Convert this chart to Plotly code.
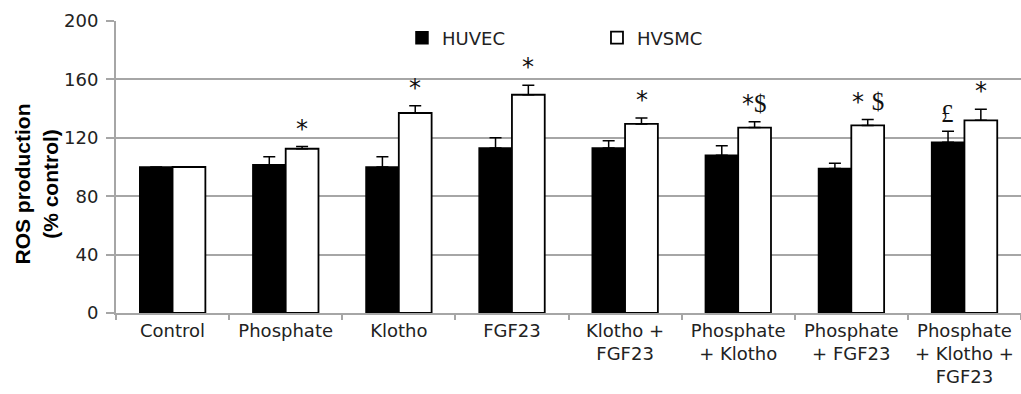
import plotly.graph_objects as go

categories = ["Control", "Phosphate", "Klotho", "FGF23", "Klotho +<br>FGF23",
              "Phosphate<br>+ Klotho", "Phosphate<br>+ FGF23", "Phosphate<br>+ Klotho +<br>FGF23"]
huvec = [100, 101.5, 100, 113, 113, 108, 99, 117]
huvec_err = [0, 5.5, 7, 7, 5, 6.5, 3.5, 7.5]
hvsmc = [100, 112.5, 137, 149.5, 129.5, 127, 128.5, 132]
hvsmc_err = [0, 1.5, 5, 6.5, 4, 4, 4, 7.5]
# significance marks: (category index, series, label)
marks = [(1, "HVSMC", "*"), (2, "HVSMC", "*"), (3, "HVSMC", "*"), (4, "HVSMC", "*"),
         (5, "HVSMC", "*$"), (6, "HVSMC", "* $"), (7, "HUVEC", "£"), (7, "HVSMC", "*")]
y_title = "ROS production<br>(% control)"

GRID = "#a6a6a6"
fig = go.Figure()
fig.add_bar(x=categories, y=huvec, name="HUVEC",
            marker=dict(color="black", line=dict(color="black", width=1.5)),
            error_y=dict(type="data", array=huvec_err, arrayminus=[0]*8, symmetric=False,
                         color="black", thickness=1.5, width=6))
fig.add_bar(x=categories, y=hvsmc, name="HVSMC",
            marker=dict(color="white", line=dict(color="black", width=1.8)),
            error_y=dict(type="data", array=hvsmc_err, arrayminus=[0]*8, symmetric=False,
                         color="black", thickness=1.5, width=6))

for idx, series, lab in marks:
    if series == "HVSMC":
        top = hvsmc[idx] + hvsmc_err[idx]
        shift = 16.5
    else:
        top = huvec[idx] + huvec_err[idx]
        shift = -16.5
    parts = []
    for ch in lab:
        if ch == "*":
            parts.append("<span style='font-family:DejaVu Sans;font-size:24px'>*</span>")
        elif ch == " ":
            parts.append(" ")
        else:
            parts.append(f"<span style='font-family:Liberation Serif;font-size:25px'>{ch}</span>")
    fig.add_annotation(x=categories[idx], y=top, text="".join(parts), showarrow=False,
                       xshift=shift, yshift=2, yanchor="bottom",
                       font=dict(color="#111", size=24))

# y-axis title placed as a rotated annotation (sits slightly below centre, as in the original)
fig.add_annotation(xref="paper", yref="paper", x=0, y=0.44, xanchor="center", yanchor="middle",
                   xshift=-80, text=y_title, textangle=-90, showarrow=False,
                   font=dict(family="Liberation Sans", size=21, color="black", weight="bold"))

fig.update_layout(
    width=1021, height=394,
    margin=dict(l=116, r=0, t=21, b=81),
    plot_bgcolor="white", paper_bgcolor="white",
    barmode="group", bargap=0.42, bargroupgap=0,
    showlegend=True,
    legend=dict(orientation="h", x=0.316, y=0.942, xanchor="left", yanchor="middle",
                entrywidth=150, font=dict(family="DejaVu Sans", size=18, color="#222"),
                bgcolor="rgba(0,0,0,0)"),
    font=dict(family="DejaVu Sans", color="#222"),
)
fig.update_xaxes(showline=True, linecolor=GRID, linewidth=2, ticks="outside",
                 tickcolor=GRID, ticklen=5, tickwidth=2, tickson="boundaries",
                 tickfont=dict(family="DejaVu Sans", size=18, color="#222"),
                 tickangle=0)
fig.update_yaxes(range=[0, 200], tickvals=[0, 40, 80, 120, 160, 200],
                 showgrid=True, gridcolor=GRID, gridwidth=2,
                 showline=True, linecolor=GRID, linewidth=2,
                 ticks="outside", tickcolor=GRID, ticklen=8, tickwidth=2,
                 ticklabelstandoff=4,
                 tickfont=dict(family="DejaVu Sans", size=18, color="#222"),
                 zeroline=False)
fig.write_html("out.html")
